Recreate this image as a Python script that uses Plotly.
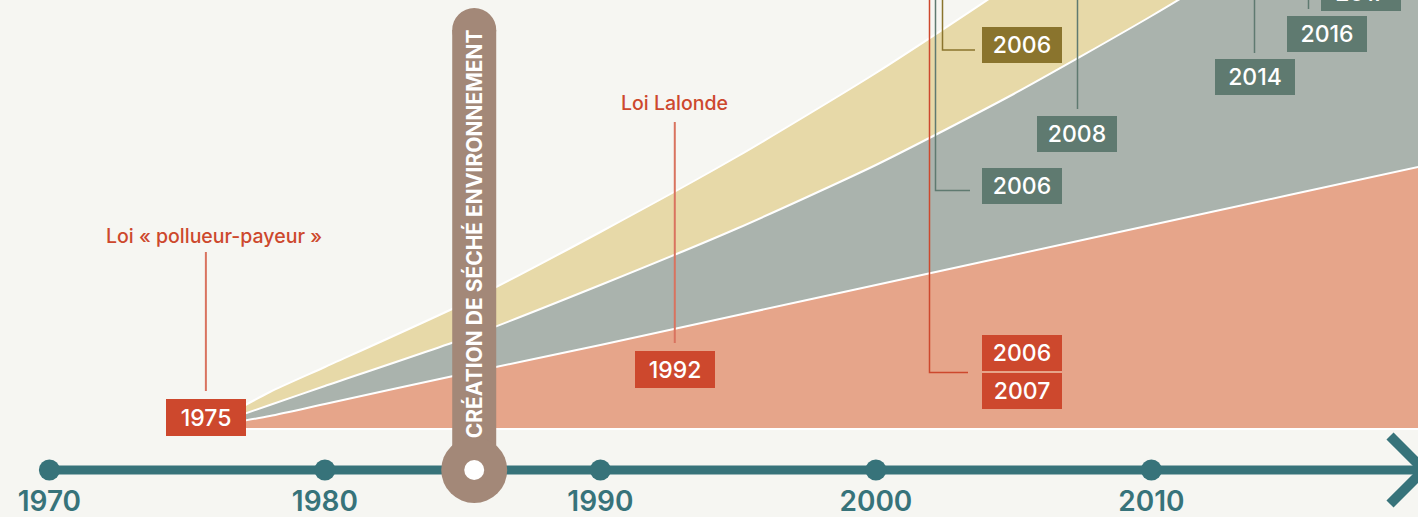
import plotly.graph_objects as go

# ---------------- data ----------------
years = [1975.6, 1978, 1980, 1985, 1990, 1995, 2000, 2005, 2010, 2015, 2020]
red_layer = [0, 12, 24, 54, 83, 113, 143, 173, 203, 233, 263]
grey_layer = [0, 11, 18, 35, 60, 87, 120, 161, 209, 263, 325]
gold_layer = [0, 13, 19, 35, 53, 72, 92, 112, 137, 164, 192]

tick_years = [1970, 1980, 1990, 2000, 2010]
tick_labels = ["1970", "1980", "1990", "2000", "2010"]

law_titles = ["Loi « pollueur-payeur »", "Loi Lalonde"]
law_years = ["1975", "1992"]
law_dates = [1975.68, 1992.70]

founding_label = "CRÉATION DE SÉCHÉ ENVIRONNEMENT"
founding_date = 1985.42

milestone_labels = ["2006", "2006", "2006", "2007", "2008", "2014", "2016", "2017"]
milestone_dates = [2005.3, 2005.3, 2005.3, 2005.3, 2007.3, 2013.76, 2016.37, 2017.6]
milestone_kind = ["gold", "grey", "red", "red", "grey", "grey", "grey", "grey"]

# ---------------- styling / layout ----------------
W, H = 1418, 517
PX_PER_YEAR = 27.55
X_1970 = 49.4
BASE_PY = 428  # pixel row of the area baseline

BG = "#f6f6f2"
TEAL = "#37737a"
C_RED_AREA = "#e6a58a"
C_GREY_AREA = "#aab3ad"
C_GOLD_AREA = "#e7d9a8"
C_RED = "#cd482d"
C_GOLD = "#8a742d"
C_GREY = "#5f7a70"
C_SECHE = "#a38878"
C_LEADER_RED = "#d9735f"
FONT = "Inter, Lato, sans-serif"
BOX_COL = {"gold": C_GOLD, "grey": C_GREY, "red": C_RED}


def X(px):
    return 1970 + (px - X_1970) / PX_PER_YEAR


def Y(py):
    return BASE_PY - py


fig = go.Figure()

# stacked areas
for vals, col in [(red_layer, C_RED_AREA), (grey_layer, C_GREY_AREA), (gold_layer, C_GOLD_AREA)]:
    fig.add_trace(go.Scatter(
        x=years, y=vals, stackgroup="s", mode="lines",
        line=dict(color="white", width=2, shape="spline", smoothing=0.6),
        fillcolor=col, hoverinfo="skip", showlegend=False))

# baseline white line
fig.add_shape(type="line", x0=years[0], x1=X(W + 5), y0=-1, y1=-1,
              line=dict(color="white", width=2), layer="above")

# timeline
fig.add_trace(go.Scatter(x=[tick_years[0], X(W + 20)], y=[Y(470), Y(470)], mode="lines",
                         line=dict(color=TEAL, width=9), hoverinfo="skip", showlegend=False))
fig.add_trace(go.Scatter(x=tick_years, y=[Y(470)] * len(tick_years), mode="markers",
                         marker=dict(color=TEAL, size=21, line=dict(width=0)),
                         hoverinfo="skip", showlegend=False))
fig.add_trace(go.Scatter(x=tick_years, y=[Y(504)] * len(tick_years), mode="text",
                         text=tick_labels,
                         textfont=dict(family=FONT, size=28, color=TEAL, weight=600),
                         hoverinfo="skip", showlegend=False))
# arrow head
fig.add_trace(go.Scatter(x=[X(1390), X(1424), X(1390)], y=[Y(436), Y(470), Y(504)], mode="lines",
                         line=dict(color=TEAL, width=10), hoverinfo="skip", showlegend=False))

# Séché bar
fig.add_shape(type="rect", xref="x", yref="y", xsizemode="pixel", xanchor=founding_date,
              x0=-22, x1=22, y0=Y(470), y1=Y(30), fillcolor=C_SECHE, line=dict(width=0))
fig.add_shape(type="circle", xsizemode="pixel", ysizemode="pixel", xanchor=founding_date,
              yanchor=Y(30), x0=-22, x1=22, y0=-22, y1=22, fillcolor=C_SECHE, line=dict(width=0))
fig.add_shape(type="circle", xsizemode="pixel", ysizemode="pixel", xanchor=founding_date,
              yanchor=Y(470), x0=-33, x1=33, y0=-33, y1=33, fillcolor=C_SECHE, line=dict(width=0))
fig.add_shape(type="circle", xsizemode="pixel", ysizemode="pixel", xanchor=founding_date,
              yanchor=Y(470), x0=-10, x1=10, y0=-10, y1=10, fillcolor="white", line=dict(width=0))
fig.add_annotation(x=founding_date, y=Y(234), text=founding_label, textangle=-90, showarrow=False,
                   font=dict(family=FONT, size=21, color="white", weight=700))

# laws
law_text_py = [236, 103]
law_line_py = [(252, 391), (122, 343)]
law_box_py = [417.5, 369.5]
law_text_shift = [8, 0]
for i in range(len(law_titles)):
    fig.add_shape(type="line", x0=law_dates[i], x1=law_dates[i], y0=Y(law_line_py[i][0]),
                  y1=Y(law_line_py[i][1]), line=dict(color=C_LEADER_RED, width=2))
    fig.add_annotation(x=law_dates[i], y=Y(law_text_py[i]), text=law_titles[i], showarrow=False,
                       xshift=law_text_shift[i],
                       font=dict(family=FONT, size=19.5, color=C_RED, weight=500))
    fig.add_annotation(x=law_dates[i], y=Y(law_box_py[i]), text=law_years[i], showarrow=False,
                       width=80, height=37, bgcolor=C_RED, borderpad=0, borderwidth=0,
                       font=dict(family=FONT, size=23, color="white", weight=500))

# leader lines for milestones (from above the visible area)
TOP = Y(-20)
fig.add_shape(type="path", path=f"M {X(942.5)},{TOP} L {X(942.5)},{Y(50)} L {X(975)},{Y(50)}",
              line=dict(color=C_GOLD, width=1.5))
fig.add_shape(type="path", path=f"M {X(935.5)},{TOP} L {X(935.5)},{Y(190.5)} L {X(970)},{Y(190.5)}",
              line=dict(color=C_GREY, width=1.5))
fig.add_shape(type="path", path=f"M {X(929.5)},{TOP} L {X(929.5)},{Y(372.5)} L {X(968)},{Y(372.5)}",
              line=dict(color=C_RED, width=1.5))
for px, py in [(1077.5, 109), (1254.5, 53), (1308.5, 9)]:
    fig.add_shape(type="line", x0=X(px), x1=X(px), y0=TOP, y1=Y(py),
                  line=dict(color=C_GREY, width=1.5))

# milestone boxes
milestone_center_py = [45, 186, 353, 391, 134, 77, 34, None]
for i, lab in enumerate(milestone_labels):
    col = BOX_COL[milestone_kind[i]]
    if milestone_center_py[i] is None:
        kw = dict(y=Y(11), yanchor="bottom")
    else:
        kw = dict(y=Y(milestone_center_py[i]), yanchor="middle")
    fig.add_annotation(x=milestone_dates[i], text=lab, showarrow=False, width=80, height=36,
                       bgcolor=col, borderpad=0, borderwidth=0,
                       font=dict(family=FONT, size=23, color="white", weight=500), **kw)

fig.update_layout(
    width=W, height=H, margin=dict(l=0, r=0, t=0, b=0),
    paper_bgcolor=BG, plot_bgcolor=BG,
    xaxis=dict(visible=False, range=[X(0), X(W)], fixedrange=True),
    yaxis=dict(visible=False, range=[Y(H), Y(0)], fixedrange=True),
    showlegend=False,
)

fig.write_html("out.html", config={"displayModeBar": False},
               post_script="document.body.style.margin='0';document.body.style.overflow='hidden';")
